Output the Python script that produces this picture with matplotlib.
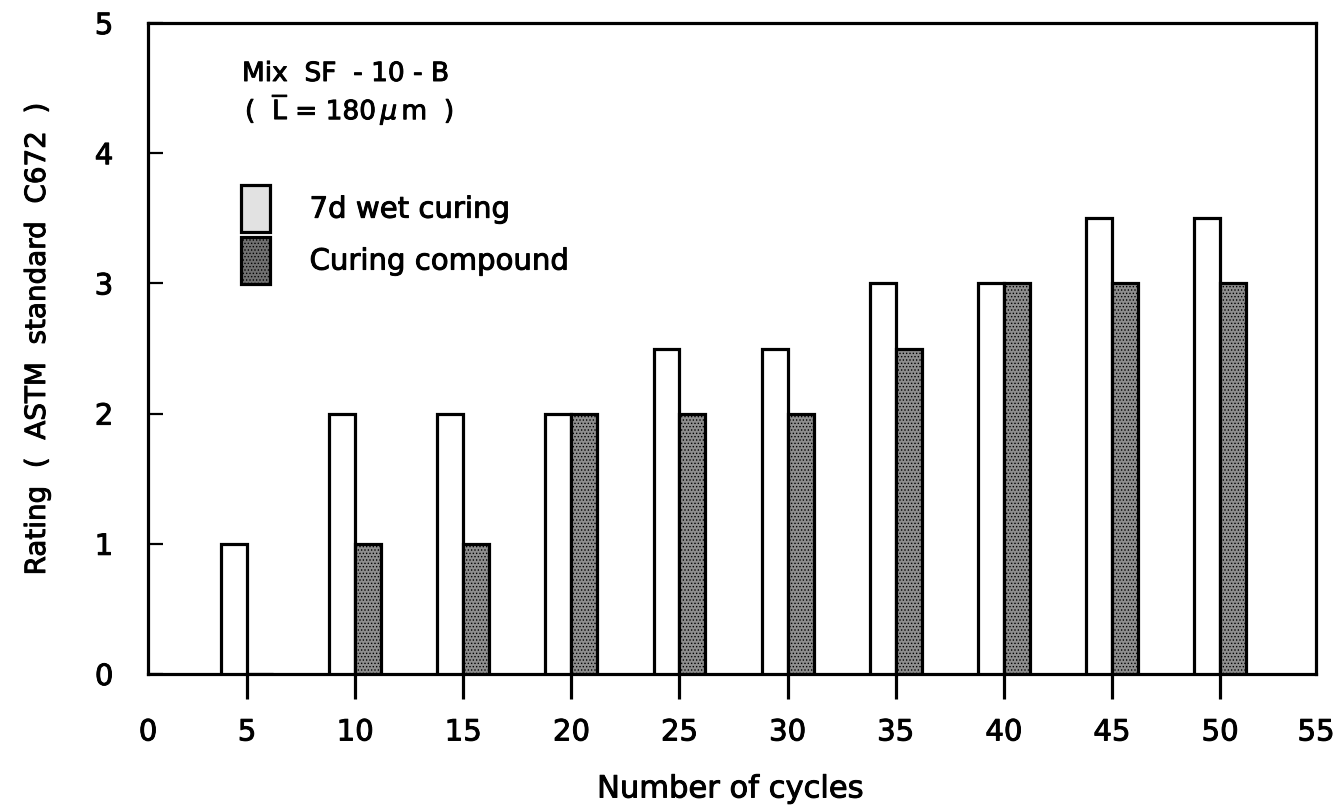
import matplotlib
matplotlib.use("Agg")
import matplotlib.pyplot as plt
import matplotlib.patheffects as pe
from matplotlib.patches import Patch
import numpy as np

plt.rcParams['font.family'] = ['DejaVu Sans']
plt.rcParams['mathtext.fontset'] = 'dejavusans'
plt.rcParams['hatch.linewidth'] = 0.6
plt.rcParams['hatch.color'] = 'black'

cycles = [5, 10, 15, 20, 25, 30, 35, 40, 45, 50]
wet_curing = [1, 2, 2, 2, 2.5, 2.5, 3, 3, 3.5, 3.5]
curing_compound = [0, 1, 1, 2, 2, 2, 2.5, 3, 3, 3]
series_labels = ["7d wet curing", "Curing compound"]
x_major_ticks = [5, 10, 15, 20, 25, 30, 35, 40, 45, 50]
y_ticks = [0, 1, 2, 3, 4, 5]

W, H = 1342, 812
fig = plt.figure(figsize=(W / 100, H / 100), dpi=100)
ax = fig.add_axes([148 / W, 1 - 675 / H, (1316 - 148) / W, (675 - 24) / H])

bold = [pe.withStroke(linewidth=0.7, foreground='black')]

bw = 1.2
x = np.array(cycles, dtype=float)
ax.bar(x, wet_curing, width=-bw, align='edge', facecolor='white',
       edgecolor='black', linewidth=2.3, zorder=3)
ax.bar(x, curing_compound, width=bw, align='edge', facecolor='#8e8e8e',
       edgecolor='black', linewidth=2.3, hatch='.....', zorder=3)

x_lo, x_hi = 0.42, 54.44
ax.set_xlim(x_lo, x_hi)
ax.set_ylim(0, 5)

for s in ax.spines.values():
    s.set_linewidth(2.3)

ax.set_xticks(x_major_ticks)
ax.set_xticklabels([str(t) for t in x_major_ticks])
ax.set_xticks([x_lo, x_hi], minor=True)
ax.set_xticklabels(['0', '55'], minor=True)
ax.tick_params(axis='x', which='major', direction='out', length=18, width=2.3,
               labelsize=21, pad=14)
ax.tick_params(axis='x', which='minor', length=0, labelsize=21, pad=32)

ax.set_yticks(y_ticks)
ax.set_yticklabels([str(t) for t in y_ticks])
ax.tick_params(axis='y', direction='in', length=11, width=1.6,
               labelsize=21, pad=25)

for lab in ax.get_xticklabels(which='both') + ax.get_yticklabels():
    lab.set_path_effects(bold)

fig.text(730 / W, 1 - 790 / H, "Number of cycles", ha='center', va='center',
         fontsize=22, path_effects=bold)
fig.text(37 / W, 1 - 340 / H, "Rating  (  ASTM  standard  C672  )",
         ha='center', va='center', rotation=90, fontsize=20, path_effects=bold)

fig.text(242 / W, 1 - 75 / H, "Mix  SF  - 10 - B", ha='left', va='center',
         fontsize=19, path_effects=bold)
fig.text(245 / W, 1 - 110 / H, r"(  $\overline{\mathrm{L}}$ = 180$\,\mu\,$m  )",
         ha='left', va='center', fontsize=19, path_effects=bold)

handles = [Patch(facecolor='#e2e2e2', edgecolor='black', linewidth=2.3),
           Patch(facecolor='#707070', edgecolor='black', linewidth=2.3,
                 hatch='.....')]
leg = ax.legend(handles, series_labels, loc='upper left',
                bbox_to_anchor=(241 / W, 1 - 186 / H),
                bbox_transform=fig.transFigure, frameon=False, fontsize=21,
                handlelength=1.0, handleheight=2.1, handletextpad=1.35,
                labelspacing=0.17, borderpad=0.0, borderaxespad=0.0)
for t in leg.get_texts():
    t.set_path_effects(bold)

fig.savefig("out.png", dpi=100)
